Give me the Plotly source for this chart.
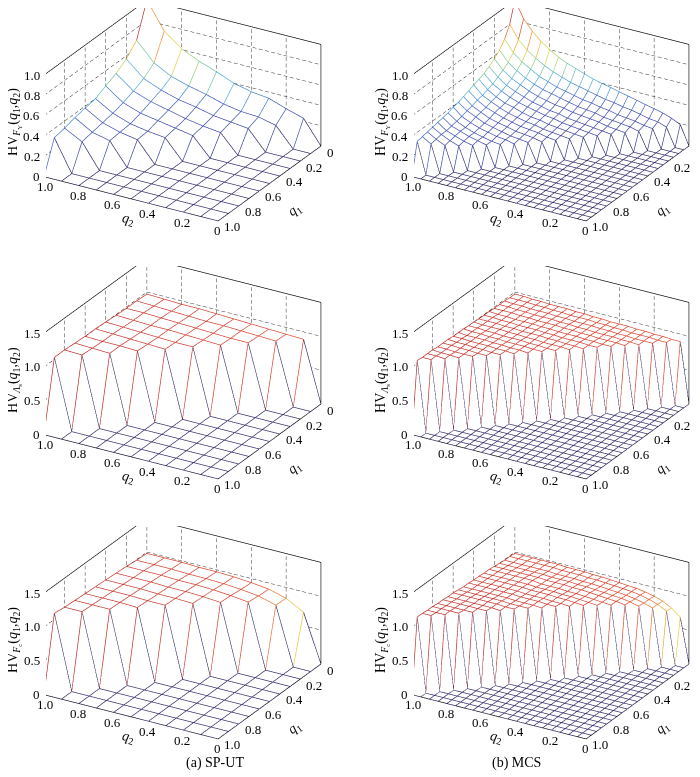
import numpy as np
import plotly.graph_objects as go

# grid points of q1 / q2
q_sput = [0.0, 0.1, 0.2, 0.3, 0.4, 0.5, 0.6, 0.7, 0.8, 0.9, 1.0]
q_mcs = [0.0, 0.05, 0.1, 0.15, 0.2, 0.25, 0.3, 0.35, 0.4, 0.45, 0.5,
         0.55, 0.6, 0.65, 0.7, 0.75, 0.8, 0.85, 0.9, 0.95, 1.0]

# HV values (x100), one row per q1 value, only the cells with q2 > q1
# (the surface is 0 wherever q2 <= q1)
fy_sput_rows = [
    [23, 28, 34, 36, 40, 47, 53, 61, 74, 100],
    [19, 23, 24, 27, 32, 36, 41, 50, 68],
    [19, 21, 23, 27, 30, 35, 42, 57],
    [18, 20, 23, 27, 31, 37, 50],
    [18, 21, 24, 27, 33, 45],
    [19, 21, 24, 30, 40],
    [20, 23, 28, 38],
    [22, 26, 36],
    [24, 33],
    [31],
]
ls_sput_rows = [
    [89, 90, 91, 92, 93, 94, 95, 95, 96, 97],
    [91, 92, 93, 94, 94, 95, 96, 97, 98],
    [93, 93, 94, 95, 96, 97, 98, 98],
    [94, 95, 96, 97, 97, 98, 99],
    [96, 96, 97, 98, 99, 100],
    [97, 98, 99, 100, 101],
    [99, 100, 100, 101],
    [100, 101, 102],
    [102, 103],
    [103],
]
fc_sput_rows = [
    [70, 84, 91, 94, 96, 97, 97, 98, 98, 98],
    [85, 92, 95, 97, 98, 98, 99, 99, 99],
    [94, 97, 99, 100, 100, 101, 101, 101],
    [98, 100, 101, 101, 102, 102, 102],
    [101, 102, 102, 103, 103, 103],
    [103, 103, 104, 104, 104],
    [104, 105, 105, 105],
    [106, 106, 106],
    [107, 107],
    [109],
]
fy_mcs_rows = [
    [19, 23, 26, 28, 30, 32, 34, 36, 38, 40, 42, 45, 48, 51, 55, 60, 66, 74, 84, 100],
    [18, 21, 22, 24, 26, 27, 29, 30, 32, 34, 36, 38, 41, 44, 48, 53, 59, 67, 80],
    [18, 19, 21, 22, 23, 25, 26, 28, 29, 31, 33, 35, 38, 41, 46, 51, 58, 69],
    [17, 19, 20, 21, 22, 24, 25, 26, 28, 30, 32, 34, 37, 41, 46, 52, 62],
    [17, 18, 19, 21, 22, 23, 24, 26, 27, 29, 31, 34, 38, 42, 48, 57],
    [17, 18, 19, 20, 21, 22, 24, 25, 27, 29, 32, 35, 39, 45, 53],
    [17, 18, 19, 20, 21, 23, 24, 26, 28, 30, 33, 37, 42, 50],
    [17, 18, 19, 20, 21, 23, 24, 26, 29, 31, 35, 40, 48],
    [17, 18, 19, 20, 22, 23, 25, 27, 30, 34, 38, 46],
    [17, 18, 20, 21, 22, 24, 26, 29, 32, 37, 44],
    [17, 19, 20, 21, 23, 25, 27, 31, 35, 42],
    [18, 19, 20, 22, 24, 26, 30, 34, 40],
    [18, 20, 21, 23, 25, 28, 32, 39],
    [19, 20, 22, 24, 27, 31, 37],
    [20, 22, 24, 27, 30, 36],
    [21, 23, 26, 29, 35],
    [22, 25, 29, 34],
    [24, 28, 33],
    [27, 32],
    [31],
]
ls_mcs_rows = [
    [89, 89, 90, 90, 91, 91, 92, 92, 92, 93, 93, 94, 94, 95, 95, 95, 96, 96, 97, 97],
    [90, 90, 91, 91, 91, 92, 92, 93, 93, 94, 94, 94, 95, 95, 96, 96, 97, 97, 97],
    [91, 91, 91, 92, 92, 93, 93, 94, 94, 94, 95, 95, 96, 96, 96, 97, 97, 98],
    [91, 92, 92, 93, 93, 93, 94, 94, 95, 95, 96, 96, 96, 97, 97, 98, 98],
    [92, 93, 93, 93, 94, 94, 95, 95, 96, 96, 96, 97, 97, 98, 98, 98],
    [93, 93, 94, 94, 95, 95, 95, 96, 96, 97, 97, 97, 98, 98, 99],
    [94, 94, 95, 95, 95, 96, 96, 97, 97, 97, 98, 98, 99, 99],
    [94, 95, 95, 96, 96, 97, 97, 97, 98, 98, 99, 99, 99],
    [95, 96, 96, 96, 97, 97, 98, 98, 99, 99, 99, 100],
    [96, 96, 97, 97, 98, 98, 98, 99, 99, 100, 100],
    [97, 97, 98, 98, 98, 99, 99, 100, 100, 101],
    [97, 98, 98, 99, 99, 100, 100, 100, 101],
    [98, 99, 99, 100, 100, 100, 101, 101],
    [99, 99, 100, 100, 101, 101, 102],
    [100, 100, 101, 101, 102, 102],
    [101, 101, 101, 102, 102],
    [101, 102, 102, 103],
    [102, 103, 103],
    [103, 103],
    [104],
]
fc_mcs_rows = [
    [66, 76, 83, 87, 90, 92, 93, 94, 95, 96, 96, 97, 97, 97, 98, 98, 98, 98, 98, 98],
    [77, 84, 88, 91, 93, 94, 95, 96, 97, 97, 98, 98, 98, 99, 99, 99, 99, 99, 99],
    [84, 88, 91, 93, 94, 95, 96, 97, 97, 98, 98, 98, 99, 99, 99, 99, 99, 99],
    [89, 92, 94, 95, 96, 97, 98, 98, 99, 99, 99, 100, 100, 100, 100, 100, 100],
    [93, 95, 96, 97, 98, 99, 99, 100, 100, 100, 101, 101, 101, 101, 101, 101],
    [95, 96, 97, 98, 99, 99, 100, 100, 100, 102, 102, 102, 102, 102, 102],
    [97, 98, 99, 100, 100, 101, 101, 101, 102, 102, 102, 102, 102, 102],
    [99, 100, 101, 101, 102, 102, 102, 103, 103, 103, 103, 103, 103],
    [100, 101, 101, 102, 102, 102, 103, 103, 103, 103, 103, 103],
    [102, 102, 103, 103, 103, 104, 104, 104, 104, 104, 104],
    [102, 103, 103, 103, 104, 104, 104, 104, 104, 104],
    [104, 104, 104, 105, 105, 105, 105, 105, 105],
    [105, 105, 106, 106, 106, 106, 106, 106],
    [105, 106, 106, 106, 106, 106, 106],
    [107, 107, 107, 107, 107, 107],
    [107, 107, 107, 107, 107],
    [108, 108, 108, 108],
    [108, 108, 108],
    [109, 109],
    [109],
]

q_ticks = [0.0, 0.2, 0.4, 0.6, 0.8, 1.0]
q_tick_labels = ['0', '0.2', '0.4', '0.6', '0.8', '1.0']
z_ticks_fy = [0.0, 0.2, 0.4, 0.6, 0.8, 1.0]
z_tick_labels_fy = ['0', '0.2', '0.4', '0.6', '0.8', '1.0']
z_ticks_hv = [0.0, 0.5, 1.0, 1.5]
z_tick_labels_hv = ['0', '0.5', '1.0', '1.5']

z_titles = [
    'HV<sub><i>F</i><sub>Υ</sub></sub>(<i>q</i><sub>1</sub>,<i>q</i><sub>2</sub>)',
    'HV<sub><i>Λ</i><sub>s</sub></sub>(<i>q</i><sub>1</sub>,<i>q</i><sub>2</sub>)',
    'HV<sub><i>F</i><sub>c</sub></sub>(<i>q</i><sub>1</sub>,<i>q</i><sub>2</sub>)',
]

# MATLAB-like "jet", slightly softened the way thin lines look in the print
jet_soft = [
    [0.0, 'rgb(50,42,105)'],
    [0.15, 'rgb(55,58,150)'],
    [0.3, 'rgb(65,90,190)'],
    [0.4, 'rgb(75,170,225)'],
    [0.5, 'rgb(125,200,150)'],
    [0.6, 'rgb(225,215,70)'],
    [0.72, 'rgb(245,160,55)'],
    [0.83, 'rgb(230,75,45)'],
    [1.0, 'rgb(190,45,40)'],
]
white_scale = [[0, 'white'], [1, 'white']]
FONT = 'Liberation Serif'
W, H = 700, 777


def build_grid(rows, n):
    Z = np.zeros((n, n))
    for i, row in enumerate(rows):
        assert len(row) == n - 1 - i
        Z[i, i + 1:] = np.array(row) / 100.0
    return Z


def mesh_segments(q, Z):
    # every grid edge as its own segment, coloured by its first vertex (flat edges)
    xs, ys, zs, cs = [], [], [], []
    n = len(q)
    for i in range(n):
        for j in range(n - 1):
            xs += [q[j], q[j + 1], None]
            ys += [q[i], q[i], None]
            zs += [Z[i, j], Z[i, j + 1], None]
            cs += [Z[i, j]] * 3
    for j in range(n):
        for i in range(n - 1):
            xs += [q[j], q[j], None]
            ys += [q[i], q[i + 1], None]
            zs += [Z[i, j], Z[i + 1, j], None]
            cs += [Z[i, j]] * 3
    return xs, ys, zs, cs


def add_dashes(out, p0, p1, n):
    # short dashes like MATLAB's '--' grid (gl dash patterns are far too long)
    p0, p1 = np.array(p0, float), np.array(p1, float)
    for k in range(n):
        a = p0 + (p1 - p0) * (k / n)
        b = p0 + (p1 - p0) * ((k + 0.6) / n)
        for dim in range(3):
            out[dim].extend([float(a[dim]), float(b[dim]), None])


def box_lines(zmax, zticks):
    solid = ([1, 1, None, 0, 0, None, 1, 1, 0, None, 1, 0, 0],
             [1, 1, None, 0, 0, None, 1, 0, 0, None, 1, 1, 0],
             [0, zmax, None, 0, zmax, None, zmax, zmax, zmax, None, 0, 0, 0])
    dashed = ([], [], [])
    for t in q_ticks[:-1]:
        # vertical grid lines on the back wall q2 = 1
        add_dashes(dashed, (1, t, 0), (1, t, zmax), 16)
    for t in q_ticks[1:-1]:
        # vertical grid lines on the back wall q1 = 0
        add_dashes(dashed, (t, 0, 0), (t, 0, zmax), 16)
    for t in zticks[1:-1]:
        add_dashes(dashed, (1, 1, t), (1, 0, t), 20)
        add_dashes(dashed, (1, 0, t), (0, 0, t), 28)
    return solid, dashed


panels = [
    (q_sput, fy_sput_rows, 1.0, z_ticks_fy, z_tick_labels_fy, z_titles[0], 0, 0),
    (q_mcs, fy_mcs_rows, 1.0, z_ticks_fy, z_tick_labels_fy, z_titles[0], 1, 0),
    (q_sput, ls_sput_rows, 1.5, z_ticks_hv, z_tick_labels_hv, z_titles[1], 0, 1),
    (q_mcs, ls_mcs_rows, 1.5, z_ticks_hv, z_tick_labels_hv, z_titles[1], 1, 1),
    (q_sput, fc_sput_rows, 1.5, z_ticks_hv, z_tick_labels_hv, z_titles[2], 0, 2),
    (q_mcs, fc_mcs_rows, 1.5, z_ticks_hv, z_tick_labels_hv, z_titles[2], 1, 2),
]
col_px = [(38, 331), (406, 699)]
row_px = [(0, 222), (258, 480), (518, 740)]

view_dir = np.array([-0.459, 0.777, 0.430])
BOX = 1.825          # orthographic view shows +-1 unit vertically, so the box sets the zoom
eye_dist = 5.0
# nudge the view: picture 10 px left and 8 px up (1 unit = 111 px here)
view_shift = np.array([-0.0934, -0.0192, -0.0651])

fig = go.Figure()
layout_scenes = {}
tick_font = dict(family=FONT, size=13, color='black')
label_font = dict(family=FONT, size=14, color='black')

for k, (q, rows, zmax, zt, ztl, ztitle, c, r) in enumerate(panels, start=1):
    sname = 'scene' if k == 1 else 'scene%d' % k
    n = len(q)
    Z = build_grid(rows, n)

    # white surface hides whatever lies behind the mesh
    fig.add_trace(go.Surface(
        x=q, y=q, z=Z - 0.006 * zmax, colorscale=white_scale, showscale=False,
        lighting=dict(ambient=1, diffuse=0, specular=0, roughness=1, fresnel=0),
        hoverinfo='skip', scene=sname))

    solid, dashed = box_lines(zmax, zt)
    fig.add_trace(go.Scatter3d(
        x=dashed[0], y=dashed[1], z=dashed[2], mode='lines',
        line=dict(color='#333333', width=1),
        hoverinfo='skip', showlegend=False, scene=sname))
    fig.add_trace(go.Scatter3d(
        x=solid[0], y=solid[1], z=solid[2], mode='lines',
        line=dict(color='black', width=1.3),
        hoverinfo='skip', showlegend=False, scene=sname))

    xs, ys, zs, cs = mesh_segments(q, Z)
    fig.add_trace(go.Scatter3d(
        x=xs, y=ys, z=zs, mode='lines',
        line=dict(color=cs, colorscale=jet_soft, cmin=0, cmax=Z.max(), width=1.4),
        hoverinfo='skip', showlegend=False, scene=sname))

    ann = []
    for t, lab in zip(zt, ztl):
        ann.append(dict(x=1, y=1, z=t, text=lab, showarrow=False, xanchor='right',
                        xshift=-2, font=tick_font))
    for t, lab in zip(q_ticks, q_tick_labels):
        ann.append(dict(x=t, y=1, z=0, text=lab, showarrow=False, xanchor='center',
                        xshift=1 if t == 1.0 else -1, yshift=-10, font=tick_font))
        ann.append(dict(x=0, y=t, z=0, text=lab, showarrow=False, xanchor='left',
                        xshift=4, yshift=-6, font=tick_font))
    ann.append(dict(x=0.5, y=1, z=0, text='<i>q</i><sub>2</sub>', showarrow=False,
                    xshift=-3, yshift=-21, textangle=12, font=label_font))
    ann.append(dict(x=0, y=0.5, z=0, text='<i>q</i><sub>1</sub>', showarrow=False,
                    xshift=25, yshift=-27, textangle=-36, font=label_font))
    ann.append(dict(x=1, y=1, z=zmax / 2, text=ztitle, showarrow=False,
                    xshift=-30, yshift=4, textangle=-90, font=label_font))

    x0, x1 = col_px[c]
    y0, y1 = row_px[r]
    eye = view_dir * eye_dist + view_shift
    axis_off = dict(visible=False, range=[-0.001, 1.001])
    layout_scenes[sname] = dict(
        domain=dict(x=[x0 / W, x1 / W], y=[1 - y1 / H, 1 - y0 / H]),
        xaxis=axis_off, yaxis=axis_off,
        zaxis=dict(visible=False, range=[-0.01 * zmax, zmax * 1.001]),
        aspectmode='manual', aspectratio=dict(x=BOX, y=BOX, z=0.562 * BOX),
        camera=dict(eye=dict(x=eye[0], y=eye[1], z=eye[2]),
                    up=dict(x=0, y=0, z=1),
                    center=dict(x=view_shift[0], y=view_shift[1], z=view_shift[2]),
                    projection=dict(type='orthographic')),
        bgcolor='white', annotations=ann)

fig.update_layout(
    width=W, height=H, margin=dict(l=0, r=0, t=0, b=0),
    paper_bgcolor='white', showlegend=False,
    annotations=[
        dict(x=176 / W, y=1 - 765 / H, xref='paper', yref='paper', text='(a) SP-UT',
             showarrow=False, font=label_font),
        dict(x=535 / W, y=1 - 765 / H, xref='paper', yref='paper', text='(b) MCS',
             showarrow=False, font=label_font),
    ],
    **layout_scenes)

fig.write_html('out.html')
